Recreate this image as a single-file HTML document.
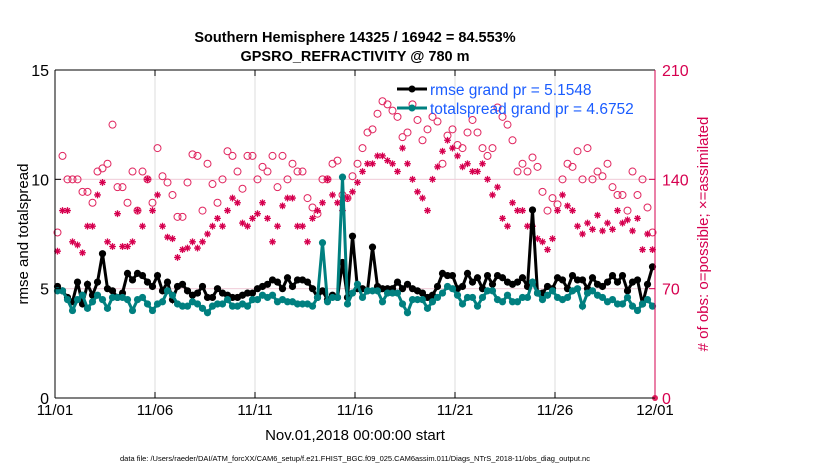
<!DOCTYPE html>
<html><head><meta charset="utf-8"><style>
body{margin:0;background:#fff}
svg text{font-family:"Liberation Sans",sans-serif}
</style></head><body>
<svg id="chart" width="830" height="470" xmlns="http://www.w3.org/2000/svg">
<rect width="830" height="470" fill="#fff"/>
<g id="grid"></g>
<g id="marks"></g>
<g id="axes"></g>
<text x="355" y="42" text-anchor="middle" font-size="14.5" font-weight="bold">Southern Hemisphere 14325 / 16942 = 84.553%</text>
<text x="355" y="61" text-anchor="middle" font-size="14.5" font-weight="bold">GPSRO_REFRACTIVITY @ 780 m</text>
<text x="355" y="440" text-anchor="middle" font-size="15">Nov.01,2018 00:00:00 start</text>
<text transform="translate(28,234) rotate(-90)" text-anchor="middle" font-size="15">rmse and totalspread</text>
<text transform="translate(708,234) rotate(-90)" text-anchor="middle" font-size="15" fill="#d6004f"># of obs: o=possible; ×=assimilated</text>
<text x="355" y="461" text-anchor="middle" font-size="7.5">data file: /Users/raeder/DAI/ATM_forcXX/CAM6_setup/f.e21.FHIST_BGC.f09_025.CAM6assim.011/Diags_NTrS_2018-11/obs_diag_output.nc</text>
<g>
<line x1="397" y1="89" x2="427" y2="89" stroke="#000" stroke-width="3"/><circle cx="412" cy="89" r="3.5" fill="#000"/>
<text x="430" y="95" font-size="15.5" fill="#1a5cff">rmse grand pr = 5.1548</text>
<line x1="397" y1="108" x2="427" y2="108" stroke="#008080" stroke-width="3"/><circle cx="412" cy="108" r="3.5" fill="#008080"/>
<text x="430" y="114" font-size="15.5" fill="#1a5cff">totalspread grand pr = 4.6752</text>
</g>
</svg>
<script>
const rmse=[5.1,4.9,4.6,4.4,5.3,4.3,5.2,4.7,5.3,6.6,5.0,4.9,4.6,4.8,5.7,5.4,5.7,5.6,5.3,5.1,5.6,4.9,5.3,4.5,5.1,5.2,4.9,4.7,4.8,5.1,4.6,4.6,5.0,4.8,4.7,4.6,4.6,4.7,4.8,4.8,5.0,5.1,5.2,5.4,5.3,5.0,5.5,5.1,5.4,5.4,5.3,5.0,4.6,4.9,4.5,4.7,4.6,6.2,4.6,7.4,5.0,5.0,4.9,6.9,5.1,5.0,5.0,5.0,5.3,5.0,5.2,5.0,4.9,4.8,4.6,4.7,5.1,5.7,5.6,5.6,5.0,5.1,5.7,5.3,5.5,5.0,5.6,5.2,5.6,5.5,5.3,5.2,5.3,5.5,5.1,8.6,4.8,4.8,5.1,5.0,5.5,5.4,5.0,5.6,5.4,5.4,5.0,5.5,5.2,5.1,5.3,5.6,5.3,5.6,4.9,5.3,5.4,4.3,5.2,6.0];
const spread=[4.9,4.9,4.5,4.0,4.5,4.7,4.1,4.4,4.7,4.5,4.1,4.6,4.6,4.6,4.5,4.0,4.5,4.6,4.3,4.0,4.3,4.4,4.9,4.7,4.3,4.2,4.2,4.4,4.3,4.1,3.9,4.2,4.3,4.3,4.5,4.2,4.2,4.3,4.2,4.5,4.5,4.7,4.6,4.7,4.4,4.5,4.4,4.4,4.3,4.3,4.3,4.2,4.6,7.1,4.4,4.6,4.6,10.1,4.3,4.8,5.2,4.6,4.9,4.9,4.9,4.4,4.8,4.8,4.8,4.3,3.9,4.5,4.5,4.5,4.1,4.4,4.6,4.8,5.1,5.0,4.7,4.3,4.6,4.6,4.2,4.6,4.9,4.9,4.5,4.4,4.7,4.4,4.4,4.6,4.6,5.3,4.8,4.5,4.7,4.9,4.6,4.5,4.6,4.9,5.0,4.2,4.8,4.9,4.7,4.6,4.4,4.5,4.3,4.3,4.6,4.2,4.0,4.3,4.5,4.2];
const possible=[106,155,140,140,140,132,132,125,145,147,150,175,135,135,125,145,120,145,140,125,160,142,138,130,116,116,138,156,155,120,150,137,125,140,158,155,145,134,155,155,140,148,145,155,135,155,140,150,145,145,128,122,118,140,140,150,152,130,128,142,150,160,170,172,182,190,188,184,180,167,170,188,178,165,172,180,177,150,168,172,162,160,170,178,170,160,155,160,186,180,175,165,145,150,145,154,148,132,120,128,124,140,150,148,158,140,160,140,145,142,150,135,130,130,120,145,130,140,122,106];
const assimilated=[94,120,120,100,98,93,110,110,130,138,100,97,118,97,97,100,120,110,140,120,130,110,103,102,90,95,96,100,96,100,105,110,115,110,120,128,125,112,110,115,118,125,115,100,110,123,128,128,110,110,100,115,120,125,140,130,125,120,128,132,138,145,150,150,155,155,152,150,145,160,150,140,132,128,120,140,148,158,165,160,155,148,150,145,145,150,140,130,135,115,110,125,120,120,110,110,102,100,95,102,120,130,123,120,110,105,112,108,117,107,112,108,120,112,114,107,115,95,105,95];
const xTicks=["11/01","11/06","11/11","11/16","11/21","11/26","12/01"];
const yTicksL=[0,5,10,15];
const yTicksR=[0,70,140,210];
const NS="http://www.w3.org/2000/svg";
const L=55,R=655,T=70,B=398;
const xDay=d=>L+(R-L)*d/30;
const xIdx=i=>xDay((i+0.5)/4);
const yL=v=>B-(B-T)*v/15;
const yR=v=>B-(B-T)*v/210;
function mk(p,tag,a){const e=document.createElementNS(NS,tag);for(const k in a)e.setAttribute(k,a[k]);p.appendChild(e);return e;}
const grid=document.getElementById('grid'),marks=document.getElementById('marks'),axes=document.getElementById('axes');
xTicks.forEach((t,k)=>{const x=xDay(k*5);
 const g=mk(grid,'line',{x1:x,y1:T,x2:x,y2:B,stroke:'#dcdcdc','stroke-width':1});
 
 
 const tx=mk(axes,'text',{x:x,y:415,'text-anchor':'middle','font-size':15});tx.textContent=t;
 
 
 mk(axes,'line',{x1:x,y1:B,x2:x,y2:B-6,stroke:'#000'});mk(axes,'line',{x1:x,y1:T,x2:x,y2:T+6,stroke:'#000'});
});
yTicksL.forEach(v=>{const y=yL(v);
 const g=mk(grid,'line',{x1:L,y1:y,x2:R,y2:y,stroke:'#dcdcdc','stroke-width':1});
 
 
 const tx=mk(axes,'text',{x:L-6,y:y+6,'text-anchor':'end','font-size':16});tx.textContent=v;
 
 
 mk(axes,'line',{x1:L,y1:y,x2:L+6,y2:y,stroke:'#000'});
});
yTicksR.forEach(v=>{const y=yR(v);
 const g=mk(grid,'line',{x1:L,y1:y,x2:R,y2:y,stroke:'#f5d0dc','stroke-width':1});
 
 
 const tx=mk(axes,'text',{x:R+7,y:y+6,'font-size':16,fill:'#d6004f'});tx.textContent=v;
 
 
 mk(axes,'line',{x1:R,y1:y,x2:R-6,y2:y,stroke:'#d6004f'});
});
mk(axes,'line',{x1:L,y1:T,x2:R,y2:T,stroke:'#000'});
mk(axes,'line',{x1:L,y1:B,x2:R,y2:B,stroke:'#000'});
mk(axes,'line',{x1:L,y1:T,x2:L,y2:B,stroke:'#000'});
mk(axes,'line',{x1:R,y1:T,x2:R,y2:B,stroke:'#d6004f'});
possible.forEach((v,i)=>{const c=mk(marks,'circle',{cx:xIdx(i),cy:yR(v),r:3.5,fill:'none',stroke:'#e0245e','stroke-width':1});
 
 });
assimilated.forEach((v,i)=>{const x=xIdx(i),y=yR(v),s=3.4;
 const g=mk(marks,'path',{d:`M${x-s} ${y}H${x+s}M${x} ${y-s}V${y+s}M${x-s*.7} ${y-s*.7}L${x+s*.7} ${y+s*.7}M${x-s*.7} ${y+s*.7}L${x+s*.7} ${y-s*.7}`,stroke:'#d6004f','stroke-width':1.3});
 
 });
const zc=mk(marks,'circle',{cx:R,cy:yR(0),r:3,fill:'#e0245e'});


function series(arr,col,name){
 const p=mk(marks,'polyline',{points:arr.map((v,i)=>xIdx(i)+','+yL(v)).join(' '),fill:'none',stroke:col,'stroke-width':3});
 
 
 arr.forEach((v,i)=>{const c=mk(marks,'circle',{cx:xIdx(i),cy:yL(v),r:3.6,fill:col});
  
  });
}
series(rmse,'#000','rmse');
series(spread,'#008080','totalspread');
</script>
</body></html>
